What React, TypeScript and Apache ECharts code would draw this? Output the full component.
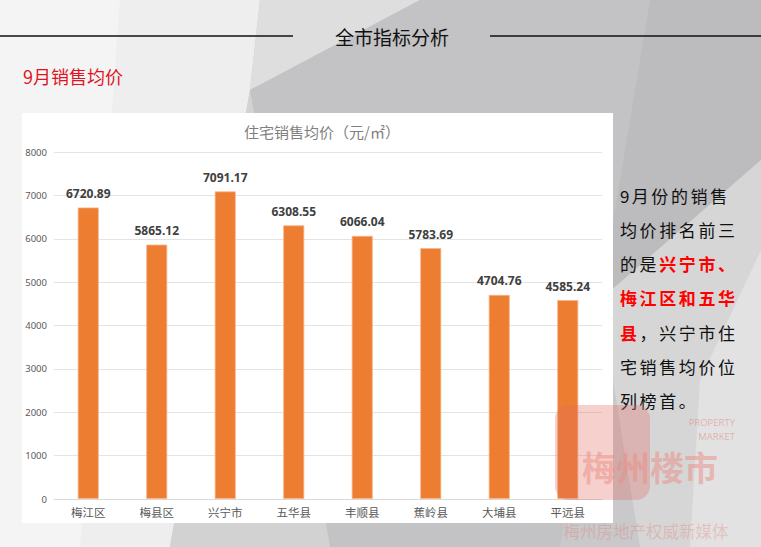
import React, { useEffect, useRef } from "react";
import * as echarts from "echarts";

const categories = ["梅江区", "梅县区", "兴宁市", "五华县", "丰顺县", "蕉岭县", "大埔县", "平远县"];
const prices = [6720.89, 5865.12, 7091.17, 6308.55, 6066.04, 5783.69, 4704.76, 4585.24];
const yTicks = { min: 0, max: 8000, interval: 1000 };

// Side note: each line is a list of [text, highlighted]
const noteLines: [string, boolean][][] = [
  [["9月份的销售", false]],
  [["均价排名前三", false]],
  [["的是", false], ["兴宁市、", true]],
  [["梅江区和五华", true]],
  [["县", true], ["，兴宁市住", false]],
  [["宅销售均价位", false]],
  [["列榜首。", false]],
];

const CJK = "'Microsoft YaHei','Noto Sans CJK SC','Noto Sans',sans-serif";

export default function App() {
  const ref = useRef<HTMLDivElement>(null);
  useEffect(() => {
    const chart = echarts.init(ref.current!, null, { renderer: "svg" });
    const bg = (points: number[][], fill: string) => ({
      type: "polygon",
      z: -20,
      silent: true,
      shape: { points },
      style: { fill },
    });
    const noteEls: any[] = [];
    noteLines.forEach((segs, li) => {
      let col = 0;
      segs.forEach(([txt, hi]) => {
        for (const ch of Array.from(txt)) {
          noteEls.push({
            type: "text",
            x: 620 + col * 19.6,
            y: 195 + li * 34.3,
            style: {
              text: ch,
              fill: hi ? "#ff0000" : "#111111",
              font: `${hi ? "bold " : ""}17px ${CJK}`,
              align: "left",
              verticalAlign: "middle",
            },
          });
          col += ch === "9" ? 0.6 : 1;
        }
      });
    });
    chart.setOption({
      animation: false,
      backgroundColor: "#c9c8ca",
      title: {
        text: "住宅销售均价（元/㎡）",
        left: 317,
        textAlign: "center",
        top: 119,
        textStyle: { fontSize: 15, fontWeight: "normal", color: "#7f7f7f", fontFamily: CJK },
      },
      grid: { left: 54, right: 159, top: 152, bottom: 48 },
      xAxis: {
        type: "category",
        data: categories,
        axisTick: { show: false },
        axisLine: { lineStyle: { color: "#d9d9d9" } },
        axisLabel: { color: "#595959", fontSize: 11.5, fontFamily: CJK, margin: 7 },
      },
      yAxis: {
        type: "value",
        min: yTicks.min,
        max: yTicks.max,
        interval: yTicks.interval,
        axisLabel: {
          color: "#595959",
          fontSize: 9.5,
          fontFamily: "'Noto Sans',sans-serif",
          margin: 7,
          formatter: (v: number) => String(v),
        },
        splitLine: { lineStyle: { color: "#e3e3e3", width: 1.2 } },
        axisLine: { show: false },
        axisTick: { show: false },
      },
      series: [
        {
          type: "bar",
          data: prices,
          barWidth: 21,
          itemStyle: { color: "#ED7D31", borderColor: "#f6b58a", borderWidth: 0.8 },
          label: {
            show: true,
            position: "top",
            distance: 8,
            formatter: (p: any) => p.value.toFixed(2),
            color: "#404040",
            fontWeight: "bold",
            fontSize: 12,
            fontFamily: "'Open Sans','Noto Sans',sans-serif",
          },
        },
      ],
      graphic: [
        bg([[0, 0], [260, 0], [250, 90], [170, 547], [0, 547]], "#eeeeef"),
        bg([[0, 0], [120, 0], [80, 547], [0, 547]], "#f4f4f5"),
        bg([[260, 0], [420, 0], [250, 90]], "#dedede"),
        bg([[420, 0], [650, 0], [560, 547], [330, 547], [250, 90]], "#c3c2c4"),
        bg([[650, 0], [761, 0], [761, 160], [600, 300]], "#bcbbbd"),
        bg([[600, 300], [761, 160], [761, 547], [640, 547]], "#d6d6d7"),
        bg([[700, 380], [761, 250], [761, 547], [690, 547]], "#e2e2e3"),
        bg([[250, 90], [330, 547], [170, 547]], "#d2d2d3"),
        {
          type: "rect",
          z: -10,
          silent: true,
          shape: { x: 22, y: 113, width: 591, height: 410 },
          style: { fill: "#ffffff" },
        },
        {
          type: "line",
          z: -5,
          shape: { x1: 0, y1: 36, x2: 293, y2: 36 },
          style: { stroke: "#111", lineWidth: 1.3 },
        },
        {
          type: "line",
          z: -5,
          shape: { x1: 490, y1: 36, x2: 761, y2: 36 },
          style: { stroke: "#111", lineWidth: 1.3 },
        },
        {
          type: "text",
          x: 392,
          y: 36,
          style: {
            text: "全市指标分析",
            fill: "#111",
            font: `19px ${CJK}`,
            align: "center",
            verticalAlign: "middle",
          },
        },
        {
          type: "text",
          x: 23,
          y: 76,
          style: {
            text: "9月销售均价",
            fill: "#e0141e",
            font: `18px ${CJK}`,
            align: "left",
            verticalAlign: "middle",
          },
        },
        ...noteEls,
        {
          type: "rect",
          z: 100,
          silent: true,
          shape: { x: 555, y: 405, width: 95, height: 95, r: 14 },
          style: { fill: "rgba(225,110,100,0.32)" },
        },
        {
          type: "text",
          z: 101,
          x: 735,
          y: 422,
          style: {
            text: "PROPERTY",
            align: "right",
            verticalAlign: "middle",
            fill: "rgba(225,110,100,0.45)",
            font: `9.5px 'Open Sans',sans-serif`,
          },
        },
        {
          type: "text",
          z: 101,
          x: 735,
          y: 436,
          style: {
            text: "MARKET",
            align: "right",
            verticalAlign: "middle",
            fill: "rgba(225,110,100,0.45)",
            font: `9.5px 'Open Sans',sans-serif`,
          },
        },
        {
          type: "text",
          z: 101,
          x: 650,
          y: 466,
          style: {
            text: "梅州楼市",
            align: "center",
            verticalAlign: "middle",
            fill: "rgba(235,140,130,0.5)",
            font: `bold 34px ${CJK}`,
          },
        },
        {
          type: "text",
          z: 101,
          x: 646,
          y: 531,
          style: {
            text: "梅州房地产权威新媒体",
            align: "center",
            verticalAlign: "middle",
            fill: "rgba(230,110,100,0.3)",
            font: `16.5px ${CJK}`,
          },
        },
      ],
    });
    return () => chart.dispose();
  }, []);
  return (
    <div
      ref={ref}
      style={{ position: "fixed", left: 0, top: 0, width: 761, height: 547 }}
    />
  );
}
